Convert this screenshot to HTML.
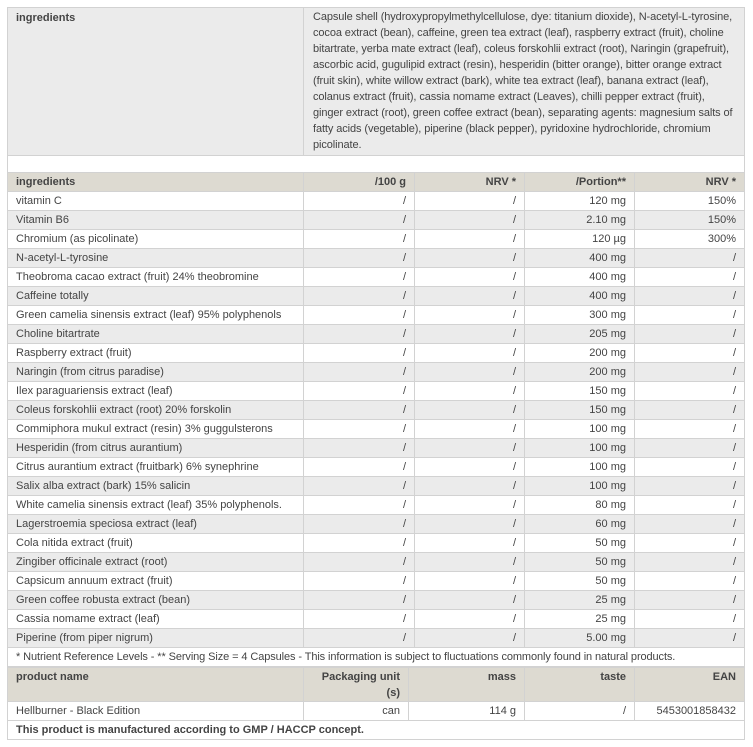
<!DOCTYPE html>
<html><head><style>
body{margin:0;width:753px;height:747px;background:#fff;font-family:"Liberation Sans",Arial,sans-serif;font-size:11px;color:#444;overflow:hidden}
table{position:absolute;left:7px;width:738px;border-collapse:collapse;table-layout:fixed}
td{border:1px solid #d2d2d2;padding:0 8px;height:18px;line-height:18px;white-space:nowrap;overflow:hidden}
td.r{text-align:right}
tr.h td{background:#dddad1;font-weight:bold;color:#444}
tr.g td{background:#ebebeb}
</style></head><body>
<table style="top:7px">
<col style="width:296px"><col>
<tr><td style="background:#ebebeb;vertical-align:top;height:145px;line-height:16px;padding-top:2px;font-weight:bold">ingredients</td>
<td style="background:#ebebeb;vertical-align:top;line-height:16px;padding:1px 2px 0 9px;font-size:11px;letter-spacing:-0.1px">Capsule shell (hydroxypropylmethylcellulose, dye: titanium dioxide), N-acetyl-L-tyrosine,<br>cocoa extract (bean), caffeine, green tea extract (leaf), raspberry extract (fruit), choline<br>bitartrate, yerba mate extract (leaf), coleus forskohlii extract (root), Naringin (grapefruit),<br>ascorbic acid, gugulipid extract (resin), hesperidin (bitter orange), bitter orange extract<br>(fruit skin), white willow extract (bark), white tea extract (leaf), banana extract (leaf),<br>colanus extract (fruit), cassia nomame extract (Leaves), chilli pepper extract (fruit),<br>ginger extract (root), green coffee extract (bean), separating agents: magnesium salts of<br>fatty acids (vegetable), piperine (black pepper), pyridoxine hydrochloride, chromium<br>picolinate.</td></tr>
<tr><td colspan="2" style="height:18px"></td></tr>
</table>
<table style="top:172px">
<col style="width:296px"><col style="width:111px"><col style="width:110px"><col style="width:110px"><col>
<tr class="h"><td>ingredients</td><td class="r">/100 g</td><td class="r">NRV *</td><td class="r">/Portion**</td><td class="r">NRV *</td></tr>
<tr><td>vitamin C</td><td class="r">/</td><td class="r">/</td><td class="r">120 mg</td><td class="r">150%</td></tr>
<tr class="g"><td>Vitamin B6</td><td class="r">/</td><td class="r">/</td><td class="r">2.10 mg</td><td class="r">150%</td></tr>
<tr><td>Chromium (as picolinate)</td><td class="r">/</td><td class="r">/</td><td class="r">120 µg</td><td class="r">300%</td></tr>
<tr class="g"><td>N-acetyl-L-tyrosine</td><td class="r">/</td><td class="r">/</td><td class="r">400 mg</td><td class="r">/</td></tr>
<tr><td>Theobroma cacao extract (fruit) 24% theobromine</td><td class="r">/</td><td class="r">/</td><td class="r">400 mg</td><td class="r">/</td></tr>
<tr class="g"><td>Caffeine totally</td><td class="r">/</td><td class="r">/</td><td class="r">400 mg</td><td class="r">/</td></tr>
<tr><td>Green camelia sinensis extract (leaf) 95% polyphenols</td><td class="r">/</td><td class="r">/</td><td class="r">300 mg</td><td class="r">/</td></tr>
<tr class="g"><td>Choline bitartrate</td><td class="r">/</td><td class="r">/</td><td class="r">205 mg</td><td class="r">/</td></tr>
<tr><td>Raspberry extract (fruit)</td><td class="r">/</td><td class="r">/</td><td class="r">200 mg</td><td class="r">/</td></tr>
<tr class="g"><td>Naringin (from citrus paradise)</td><td class="r">/</td><td class="r">/</td><td class="r">200 mg</td><td class="r">/</td></tr>
<tr><td>Ilex paraguariensis extract (leaf)</td><td class="r">/</td><td class="r">/</td><td class="r">150 mg</td><td class="r">/</td></tr>
<tr class="g"><td>Coleus forskohlii extract (root) 20% forskolin</td><td class="r">/</td><td class="r">/</td><td class="r">150 mg</td><td class="r">/</td></tr>
<tr><td>Commiphora mukul extract (resin) 3% guggulsterons</td><td class="r">/</td><td class="r">/</td><td class="r">100 mg</td><td class="r">/</td></tr>
<tr class="g"><td>Hesperidin (from citrus aurantium)</td><td class="r">/</td><td class="r">/</td><td class="r">100 mg</td><td class="r">/</td></tr>
<tr><td>Citrus aurantium extract (fruitbark) 6% synephrine</td><td class="r">/</td><td class="r">/</td><td class="r">100 mg</td><td class="r">/</td></tr>
<tr class="g"><td>Salix alba extract (bark) 15% salicin</td><td class="r">/</td><td class="r">/</td><td class="r">100 mg</td><td class="r">/</td></tr>
<tr><td>White camelia sinensis extract (leaf) 35% polyphenols.</td><td class="r">/</td><td class="r">/</td><td class="r">80 mg</td><td class="r">/</td></tr>
<tr class="g"><td>Lagerstroemia speciosa extract (leaf)</td><td class="r">/</td><td class="r">/</td><td class="r">60 mg</td><td class="r">/</td></tr>
<tr><td>Cola nitida extract (fruit)</td><td class="r">/</td><td class="r">/</td><td class="r">50 mg</td><td class="r">/</td></tr>
<tr class="g"><td>Zingiber officinale extract (root)</td><td class="r">/</td><td class="r">/</td><td class="r">50 mg</td><td class="r">/</td></tr>
<tr><td>Capsicum annuum extract (fruit)</td><td class="r">/</td><td class="r">/</td><td class="r">50 mg</td><td class="r">/</td></tr>
<tr class="g"><td>Green coffee robusta extract (bean)</td><td class="r">/</td><td class="r">/</td><td class="r">25 mg</td><td class="r">/</td></tr>
<tr><td>Cassia nomame extract (leaf)</td><td class="r">/</td><td class="r">/</td><td class="r">25 mg</td><td class="r">/</td></tr>
<tr class="g"><td>Piperine (from piper nigrum)</td><td class="r">/</td><td class="r">/</td><td class="r">5.00 mg</td><td class="r">/</td></tr>
<tr><td colspan="5" style="letter-spacing:-0.1px">* Nutrient Reference Levels - ** Serving Size = 4 Capsules - This information is subject to fluctuations commonly found in natural products.</td></tr>
</table>
<table style="top:667px">
<col style="width:296px"><col style="width:105px"><col style="width:116px"><col style="width:110px"><col>
<tr class="h"><td style="vertical-align:top;height:33px">product name</td><td class="r" style="white-space:normal;line-height:16px;padding-top:1px">Packaging unit (s)</td><td class="r" style="vertical-align:top">mass</td><td class="r" style="vertical-align:top">taste</td><td class="r" style="vertical-align:top">EAN</td></tr>
<tr><td>Hellburner - Black Edition</td><td class="r">can</td><td class="r">114 g</td><td class="r">/</td><td class="r">5453001858432</td></tr>
<tr><td colspan="5" style="font-weight:bold">This product is manufactured according to GMP / HACCP concept.</td></tr>
</table>
</body></html>
